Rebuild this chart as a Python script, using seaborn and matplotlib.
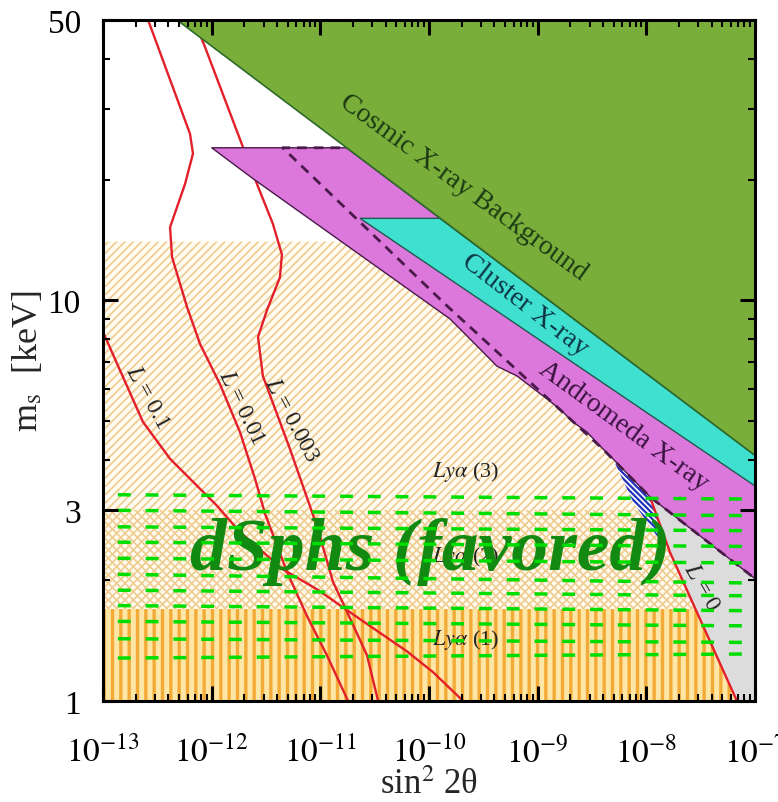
import numpy as np
import matplotlib
matplotlib.use("Agg")
import matplotlib.pyplot as plt
import seaborn as sns
from matplotlib.patches import Polygon
from matplotlib.ticker import FixedLocator, NullFormatter, FuncFormatter, LogLocator

# ---------------- data : (sin^2 2theta , m_s [keV]) ----------------
x_limits = [1e-13, 1e-7]
m_limits = [1, 50]

# Cosmic X-ray Background lower boundary
cxb_sin2 = [4.8e-13, 1e-7]
cxb_m = [50, 4.1]

# Cluster X-ray band
cluster_sin2 = [2.32e-11, 1.26e-10, 1e-7, 1e-7]
cluster_m = [16, 16, 4.1, 3.44]

# Andromeda X-ray band
andro_top_sin2 = [1.0e-12, 1.74e-11, 1e-7]
andro_top_m = [24, 24, 4.1]
andro_low_sin2 = [1e-7, 1.08e-8, 4.93e-9, 3.74e-9, 2.84e-9, 2.11e-9, 1.60e-9,
                  1.22e-9, 6.45e-10, 4.2e-10, 3.64e-10, 1.56e-10, 2.4e-12, 1.0e-12]
andro_low_m = [2.02, 3.23, 4.02, 4.33, 4.69, 4.97, 5.35,
               5.67, 6.47, 6.85, 7.13, 8.98, 20.1, 24]
andro_dash_sin2 = [1.52e-11, 4.5e-12, 1.47e-10, 3.99e-9, 1.08e-8, 1e-7]
andro_dash_m = [24, 24, 9.67, 4.25, 3.23, 2.02]

# L = 0 line and blue sliver edge
L0_sin2 = [1.08e-8, 1.65e-8, 3.12e-8, 6.82e-8]
L0_m = [3.23, 2.35, 1.60, 1.0]
sliver_sin2 = [4.93e-9, 7.53e-9, 1.25e-8, 1.55e-8]
sliver_m = [4.02, 3.14, 2.58, 2.44]

# Lyman-alpha limits
lya3_top_m = 14
lya3_top_sin2 = 1.55e-11
lya2_m = [1.7, 3.0]
lya1_m = [1.0, 1.7]

# lepton-asymmetry curves
L01_sin2 = [1e-13, 2.33e-13, 4.14e-13, 1.12e-12, 1.82e-12, 4.53e-12, 9.31e-12,
            2.32e-11, 6.27e-11, 1.09e-10, 2.06e-10]
L01_m = [8.33, 4.97, 4.02, 3.07, 2.64, 2.13, 1.90, 1.60, 1.33, 1.18, 1.0]
L001_sin2 = [2.6e-13, 6.32e-13, 6.73e-13, 5.69e-13, 4.14e-13, 4.32e-13, 5.93e-13,
             7.81e-13, 1.19e-12, 1.82e-12, 2.51e-12, 3.10e-12, 4.93e-12, 7.53e-12,
             1.15e-11, 1.80e-11]
L001_m = [50, 26.0, 23.2, 19.5, 15.2, 12.8, 9.62, 7.78, 6.18, 4.69, 3.58, 2.93,
          2.10, 1.63, 1.30, 1.0]
L0003_sin2 = [6.87e-13, 8.69e-13, 1.94e-12, 2.61e-12, 3.66e-12, 4.43e-12, 4.25e-12,
              3.23e-12, 2.67e-12, 2.96e-12, 5.26e-12, 9.31e-12, 1.31e-11, 1.76e-11,
              2.69e-11, 3.40e-11]
L0003_m = [50, 42.8, 24.1, 19.5, 15.5, 13.0, 11.4, 9.45, 8.09, 6.47, 4.25, 2.73,
           1.98, 1.67, 1.30, 1.0]

# dSphs favoured band (dashed lines: left / right ends)
dsph_x = [1.37e-13, 8.4e-8]
dsph_m_left = [3.27, 2.99, 2.72, 2.49, 2.27, 2.07, 1.89, 1.73, 1.58, 1.43, 1.28]
dsph_m_right = [3.19, 2.90, 2.66, 2.43, 2.21, 1.97, 1.83, 1.68, 1.54, 1.40, 1.31]

# x tick labels (decades), y ticks
x_major = [1e-13, 1e-12, 1e-11, 1e-10, 1e-9, 1e-8, 1e-7]
y_major = [1, 3, 10, 50]
y_major_labels = ["1", "3", "10", "50"]
y_minor = [2, 4, 5, 6, 7, 8, 9, 20, 30, 40]

# ---------------- style ----------------
sns.set_theme(style="ticks")
plt.rcParams["font.family"] = ["Liberation Serif", "DejaVu Serif"]
plt.rcParams["mathtext.fontset"] = "stix"
plt.rcParams["hatch.linewidth"] = 1.1

fig = plt.figure(figsize=(7.78, 8.03), dpi=100)
ax = fig.add_axes([103 / 778, 1 - 702 / 803, 652 / 778, 681 / 803])
ax.set_xscale("log")
ax.set_yscale("log")
ax.set_xlim(x_limits)
ax.set_ylim(m_limits)


def add_poly(xs, ms, hlw=None, **kw):
    p = Polygon(np.column_stack([xs, ms]), closed=True, **kw)
    if hlw is not None:
        try:
            p.set_hatch_linewidth(hlw)
        except AttributeError:
            pass
    ax.add_patch(p)
    return p


# Ly-alpha (3) hatched region
lx = [x_limits[0], lya3_top_sin2]
lm = [lya3_top_m, lya3_top_m]
for xx, mm in zip(andro_low_sin2[::-1], andro_low_m[::-1]):
    if mm < lya3_top_m and xx <= sliver_sin2[0]:
        lx.append(xx); lm.append(mm)
lx += sliver_sin2[1:]
lm += sliver_m[1:]
for xx, mm in zip(L0_sin2, L0_m):
    if mm < sliver_m[-1]:
        lx.append(xx); lm.append(mm)
lx.append(x_limits[0]); lm.append(m_limits[0])
lya3 = add_poly(lx, lm, facecolor="#fffbf0", edgecolor="#efcb8e", linewidth=0,
                hatch="////", zorder=1, hlw=1.2)

# Ly-alpha (2) cross hatch, clipped to Ly-alpha region
lya2 = add_poly([x_limits[0], x_limits[1], x_limits[1], x_limits[0]],
                [lya2_m[0], lya2_m[0], lya2_m[1], lya2_m[1]],
                facecolor="none", edgecolor="#efcb8e", linewidth=0,
                hatch="\\\\\\\\", zorder=1.1, hlw=1.2)
lya2.set_clip_path(lya3)

# Ly-alpha (1) striped band
lya1 = add_poly([x_limits[0], x_limits[1], x_limits[1], x_limits[0]],
                [lya1_m[0], lya1_m[0], lya1_m[1], lya1_m[1]],
                facecolor="#fde6a6", edgecolor="#f3aa36", linewidth=0,
                hatch="||", zorder=1.2, hlw=2.4)
lya1.set_clip_path(lya3)

# grey region right of L=0
add_poly([L0_sin2[0], x_limits[1], x_limits[1]] + L0_sin2[::-1],
         [L0_m[0], andro_low_m[0], m_limits[0]] + L0_m[::-1],
         facecolor="#dcdcdc", edgecolor="none", zorder=1.3)

# blue hatched sliver
add_poly([sliver_sin2[0], L0_sin2[0], sliver_sin2[-1]] + sliver_sin2[1:-1][::-1],
         [sliver_m[0], L0_m[0], sliver_m[-1]] + sliver_m[1:-1][::-1],
         facecolor="white", edgecolor="#2233bb", linewidth=0,
         hatch="\\\\\\\\\\\\", zorder=1.4, hlw=1.6)

# red L curves
for xs, ms in [(L01_sin2, L01_m), (L001_sin2, L001_m), (L0003_sin2, L0003_m),
               (L0_sin2, L0_m)]:
    sns.lineplot(x=xs, y=ms, sort=False, estimator=None, color="#e3202a",
                 linewidth=1.7, ax=ax, zorder=2)

# Andromeda band
add_poly(andro_top_sin2 + andro_low_sin2, andro_top_m + andro_low_m,
         facecolor="#dc78dc", edgecolor="#4a1a4a", linewidth=1.0, zorder=3)
ax.plot(andro_dash_sin2, andro_dash_m, color="#4a1a4a", lw=2.0,
        dashes=(3.5, 2.5), zorder=3.5)

# Cluster band
add_poly(cluster_sin2, cluster_m, facecolor="#40e0d0", edgecolor="#1f5a50",
         linewidth=1.0, zorder=4)

# Cosmic X-ray background
add_poly(cxb_sin2 + [x_limits[1]], cxb_m + [m_limits[1]],
         facecolor="#7aae3a", edgecolor="#2e6b2a", linewidth=1.2, zorder=5)

# region labels
lab_kw = dict(ha="center", va="center", rotation_mode="anchor", zorder=6)
ax.text(2.06e-10, 19.2, "Cosmic X-ray Background", fontsize=20, rotation=-36,
        color="#1c3a14", **lab_kw)
ax.text(7.64e-10, 9.78, "Cluster X-ray", fontsize=20, rotation=-37.5,
        color="#0d3442", **lab_kw)
ax.text(6.09e-9, 4.86, "Andromeda X-ray", fontsize=20, rotation=-36,
        color="#3a1240", **lab_kw)
ax.text(2.19e-10, 3.75, r"$Ly\alpha$ (3)", fontsize=16, color="#222222", **lab_kw)
ax.text(2.19e-10, 2.30, r"$Ly\alpha$ (2)", fontsize=16, color="#222222", **lab_kw)
ax.text(2.19e-10, 1.43, r"$Ly\alpha$ (1)", fontsize=16, color="#222222", **lab_kw)
ax.text(2.54e-13, 5.77, r"$L$ = 0.1", fontsize=17, rotation=-61, color="#222222", **lab_kw)
ax.text(1.86e-12, 5.42, r"$L$ = 0.01", fontsize=17, rotation=-64, color="#222222", **lab_kw)
ax.text(5.37e-12, 5.05, r"$L$ = 0.003", fontsize=17, rotation=-62, color="#222222", **lab_kw)
ax.text(3.18e-8, 1.93, r"$L$ = 0", fontsize=17, rotation=-60, color="#222222", **lab_kw)

# dSphs band
ax.text(1.04e-10, 2.135, "dSphs (favored)", fontsize=53, fontweight="bold",
        fontstyle="italic", color="#128a12", ha="center", va="baseline", zorder=7)
for ml, mr in zip(dsph_m_left, dsph_m_right):
    ax.plot(dsph_x, [ml, mr], color="#00dd00", lw=2.5, dashes=(3.7, 4.3),
            solid_capstyle="butt", dash_capstyle="butt", zorder=8)

# ---------------- axes / ticks ----------------
ax.xaxis.set_major_locator(FixedLocator(x_major))
ax.xaxis.set_major_formatter(FuncFormatter(lambda v, p: r"$10^{%d}$" % round(np.log10(v))))
ax.xaxis.set_minor_locator(LogLocator(base=10, subs=np.arange(2, 10), numticks=100))
ax.xaxis.set_minor_formatter(NullFormatter())
ax.yaxis.set_major_locator(FixedLocator(y_major))
ax.set_yticklabels(y_major_labels)
ax.yaxis.set_minor_locator(FixedLocator(y_minor))
ax.yaxis.set_minor_formatter(NullFormatter())

ax.tick_params(which="both", direction="in", top=True, right=True, colors="black")
ax.tick_params(which="major", length=11, width=2.2)
ax.tick_params(which="minor", length=5, width=1.5)
ax.tick_params(axis="x", which="major", pad=25, labelsize=24)
ax.tick_params(axis="y", which="major", pad=16, labelsize=24)
ax.xaxis.set_zorder(20)
ax.yaxis.set_zorder(20)
for s in ax.spines.values():
    s.set_linewidth(2.2)
    s.set_color("black")
    s.set_zorder(20)

ax.set_xlabel(r"sin$^{2}$ 2θ", fontsize=25, labelpad=0)
ax.set_ylabel(r"m$_{\rm s}$  [keV]", fontsize=26, labelpad=2)

fig.savefig("out.png", dpi=100)
